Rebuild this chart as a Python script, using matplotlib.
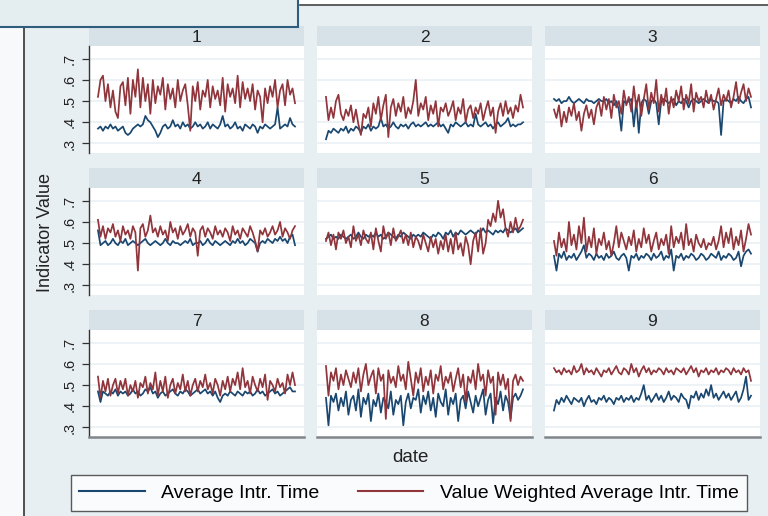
import numpy as np
import matplotlib
matplotlib.use('Agg')
import matplotlib.pyplot as plt
from matplotlib.patches import Rectangle
from matplotlib.lines import Line2D

plt.rcParams['font.family'] = ['Liberation Sans', 'DejaVu Sans']

# average intraday time and value weighted average, one pair per panel
avg_time_1 = [0.37, 0.38, 0.36, 0.38, 0.37, 0.39, 0.37, 0.38, 0.36, 0.37,
              0.38, 0.35, 0.34, 0.35, 0.37, 0.38, 0.39, 0.38, 0.39, 0.43,
              0.41, 0.40, 0.38, 0.36, 0.33, 0.35, 0.38, 0.39, 0.37, 0.38,
              0.41, 0.38, 0.39, 0.37, 0.40, 0.38, 0.39, 0.37, 0.38, 0.40,
              0.38, 0.39, 0.37, 0.38, 0.40, 0.37, 0.39, 0.38, 0.37, 0.39,
              0.43, 0.38, 0.39, 0.37, 0.38, 0.40, 0.37, 0.38, 0.36, 0.39,
              0.38, 0.37, 0.39, 0.38, 0.35, 0.38, 0.37, 0.39, 0.38, 0.37,
              0.38, 0.39, 0.47, 0.37, 0.38, 0.39, 0.38, 0.42, 0.39, 0.38]
vw_time_1 = [0.52, 0.60, 0.62, 0.50, 0.58, 0.47, 0.55, 0.45, 0.42, 0.57,
             0.59, 0.48, 0.61, 0.44, 0.60, 0.52, 0.65, 0.47, 0.61, 0.50,
             0.58, 0.44, 0.60, 0.49, 0.57, 0.53, 0.61, 0.46, 0.58, 0.51,
             0.56, 0.47, 0.60, 0.50, 0.55, 0.58, 0.48, 0.36, 0.57, 0.50,
             0.59, 0.46, 0.55, 0.52, 0.60, 0.47, 0.57, 0.51, 0.55, 0.48,
             0.61, 0.45, 0.58, 0.52, 0.56, 0.49, 0.62, 0.47, 0.59, 0.51,
             0.56, 0.50, 0.58, 0.46, 0.55, 0.52, 0.40, 0.56, 0.49, 0.57,
             0.52, 0.60, 0.47, 0.55, 0.58, 0.48, 0.60, 0.53, 0.56, 0.49]

avg_time_2 = [0.32, 0.36, 0.35, 0.37, 0.36, 0.35, 0.37, 0.36, 0.38, 0.35,
              0.37, 0.36, 0.38, 0.37, 0.35, 0.38, 0.37, 0.39, 0.36, 0.38,
              0.37, 0.38, 0.42, 0.38, 0.39, 0.37, 0.38, 0.40, 0.38, 0.37,
              0.39, 0.38, 0.39, 0.37, 0.39, 0.40, 0.38, 0.39, 0.38, 0.39,
              0.40, 0.38, 0.39, 0.38, 0.39, 0.40, 0.38, 0.39, 0.37, 0.35,
              0.39, 0.38, 0.40, 0.39, 0.38, 0.39, 0.40, 0.38, 0.39, 0.38,
              0.44, 0.39, 0.38, 0.39, 0.40, 0.38, 0.39, 0.37, 0.39, 0.40,
              0.38, 0.39, 0.40, 0.42, 0.38, 0.39, 0.38, 0.39, 0.39, 0.40]
vw_time_2 = [0.52, 0.41, 0.47, 0.42, 0.50, 0.53, 0.44, 0.41, 0.46, 0.43,
             0.48, 0.40, 0.46, 0.39, 0.34, 0.44, 0.42, 0.47, 0.38, 0.49,
             0.44, 0.52, 0.41, 0.48, 0.53, 0.33, 0.47, 0.51, 0.43, 0.49,
             0.45, 0.52, 0.42, 0.47, 0.44, 0.50, 0.60, 0.43, 0.49, 0.46,
             0.52, 0.41, 0.48, 0.44, 0.50, 0.38, 0.47, 0.45, 0.49, 0.43,
             0.46, 0.50, 0.41, 0.47, 0.44, 0.51, 0.40, 0.46, 0.48, 0.42,
             0.47, 0.44, 0.49, 0.41, 0.46, 0.50, 0.43, 0.47, 0.35, 0.45,
             0.49, 0.43, 0.50, 0.44, 0.47, 0.42, 0.48, 0.45, 0.53, 0.47]

avg_time_3 = [0.51, 0.50, 0.51, 0.49, 0.50, 0.50, 0.52, 0.50, 0.49, 0.50,
              0.51, 0.50, 0.49, 0.51, 0.50, 0.50, 0.49, 0.50, 0.51, 0.50,
              0.50, 0.51, 0.49, 0.50, 0.48, 0.50, 0.46, 0.36, 0.50, 0.49,
              0.50, 0.51, 0.38, 0.50, 0.35, 0.49, 0.51, 0.50, 0.44, 0.50,
              0.51, 0.49, 0.39, 0.50, 0.51, 0.50, 0.49, 0.50, 0.51, 0.48,
              0.50, 0.49, 0.51, 0.50, 0.47, 0.50, 0.51, 0.50, 0.49, 0.50,
              0.51, 0.50, 0.49, 0.51, 0.50, 0.50, 0.49, 0.34, 0.50, 0.51,
              0.50, 0.49, 0.51, 0.50, 0.52, 0.50, 0.49, 0.51, 0.52, 0.47]
vw_time_3 = [0.46, 0.42, 0.48, 0.38, 0.45, 0.40, 0.47, 0.43, 0.49, 0.41,
             0.45, 0.36, 0.44, 0.48, 0.42, 0.46, 0.39, 0.47, 0.50, 0.43,
             0.52, 0.46, 0.51, 0.42, 0.53, 0.47, 0.50, 0.44, 0.55, 0.48,
             0.52, 0.45, 0.57, 0.47, 0.53, 0.43, 0.51, 0.58, 0.46, 0.54,
             0.49, 0.60, 0.45, 0.53, 0.48, 0.56, 0.44, 0.52, 0.47, 0.55,
             0.50, 0.57, 0.46, 0.53, 0.49, 0.58, 0.45, 0.54, 0.50, 0.52,
             0.47, 0.55, 0.49, 0.53, 0.46, 0.51, 0.56, 0.48, 0.53, 0.50,
             0.55, 0.47, 0.52, 0.59, 0.49, 0.54, 0.58, 0.50, 0.56, 0.52]

avg_time_4 = [0.56, 0.49, 0.50, 0.51, 0.49, 0.50, 0.52, 0.50, 0.49, 0.51,
              0.50, 0.52, 0.49, 0.50, 0.51, 0.50, 0.49, 0.50, 0.51, 0.52,
              0.50, 0.49, 0.50, 0.51, 0.50, 0.49, 0.50, 0.52, 0.50, 0.49,
              0.51, 0.50, 0.50, 0.49, 0.50, 0.51, 0.50, 0.52, 0.49, 0.50,
              0.50, 0.51, 0.49, 0.50, 0.52, 0.50, 0.49, 0.51, 0.50, 0.49,
              0.50, 0.51, 0.50, 0.49, 0.51, 0.50, 0.52, 0.50, 0.51, 0.49,
              0.50, 0.52, 0.51, 0.50, 0.46, 0.50, 0.51, 0.50, 0.52, 0.51,
              0.50, 0.52, 0.51, 0.53, 0.51, 0.52, 0.50, 0.53, 0.54, 0.49]
vw_time_4 = [0.61, 0.53, 0.58, 0.52, 0.57, 0.55, 0.59, 0.53, 0.56, 0.51,
             0.58, 0.54, 0.56, 0.52, 0.58, 0.55, 0.37, 0.57, 0.59, 0.53,
             0.56, 0.63, 0.55, 0.57, 0.53, 0.58, 0.54, 0.56, 0.51, 0.60,
             0.55, 0.57, 0.52, 0.58, 0.54, 0.56, 0.59, 0.53, 0.57, 0.55,
             0.44, 0.56, 0.58, 0.53, 0.57, 0.55, 0.52, 0.58, 0.54, 0.56,
             0.53, 0.57, 0.55, 0.51, 0.58, 0.54, 0.56, 0.52, 0.57, 0.55,
             0.53, 0.58, 0.55, 0.51, 0.46, 0.56, 0.54, 0.57, 0.53, 0.55,
             0.58, 0.54, 0.56, 0.60, 0.53, 0.57, 0.55, 0.52, 0.56, 0.58]

avg_time_5 = [0.52, 0.53, 0.54, 0.52, 0.53, 0.52, 0.54, 0.53, 0.52, 0.53,
              0.54, 0.52, 0.53, 0.55, 0.53, 0.52, 0.54, 0.53, 0.54, 0.53,
              0.55, 0.53, 0.54, 0.52, 0.53, 0.55, 0.54, 0.53, 0.52, 0.54,
              0.53, 0.55, 0.54, 0.53, 0.52, 0.54, 0.53, 0.54, 0.53, 0.55,
              0.54, 0.53, 0.52, 0.54, 0.53, 0.55, 0.54, 0.52, 0.55, 0.54,
              0.56, 0.53, 0.55, 0.54, 0.56, 0.55, 0.54, 0.55, 0.56, 0.55,
              0.54, 0.56, 0.55, 0.57, 0.55, 0.56, 0.55, 0.54, 0.56, 0.55,
              0.56, 0.55, 0.57, 0.56, 0.55, 0.56, 0.57, 0.55, 0.56, 0.57]
vw_time_5 = [0.51, 0.55, 0.49, 0.54, 0.47, 0.55, 0.52, 0.56, 0.50, 0.53,
             0.48, 0.58, 0.51, 0.54, 0.49, 0.56, 0.52, 0.50, 0.55, 0.47,
             0.57, 0.51, 0.46, 0.58, 0.52, 0.55, 0.49, 0.57, 0.51, 0.53,
             0.56, 0.50, 0.54, 0.49, 0.55, 0.48, 0.53, 0.51, 0.47, 0.54,
             0.50, 0.46, 0.53, 0.48, 0.52, 0.45, 0.51, 0.47, 0.54, 0.46,
             0.52, 0.45, 0.55, 0.47, 0.50, 0.44, 0.53, 0.49, 0.40, 0.51,
             0.55, 0.46, 0.57, 0.45, 0.50, 0.61, 0.58, 0.64, 0.60, 0.70,
             0.62, 0.66, 0.57, 0.53, 0.60, 0.55, 0.62, 0.56, 0.58, 0.61]

avg_time_6 = [0.44, 0.37, 0.45, 0.43, 0.46, 0.42, 0.44, 0.43, 0.45, 0.42,
              0.44, 0.46, 0.49, 0.43, 0.45, 0.44, 0.42, 0.45, 0.43, 0.44,
              0.42, 0.45, 0.43, 0.44, 0.46, 0.43, 0.42, 0.44, 0.45, 0.43,
              0.37, 0.44, 0.43, 0.45, 0.42, 0.44, 0.43, 0.45, 0.44, 0.42,
              0.45, 0.43, 0.44, 0.46, 0.42, 0.44, 0.43, 0.47, 0.37, 0.44,
              0.43, 0.45, 0.42, 0.44, 0.43, 0.45, 0.44, 0.42, 0.43, 0.45,
              0.44, 0.42, 0.43, 0.45, 0.44, 0.43, 0.46, 0.42, 0.44, 0.43,
              0.45, 0.44, 0.42, 0.43, 0.46, 0.39, 0.44, 0.46, 0.47, 0.45]
vw_time_6 = [0.51, 0.44, 0.55, 0.48, 0.52, 0.46, 0.60, 0.49, 0.54, 0.47,
             0.58, 0.50, 0.62, 0.46, 0.53, 0.48, 0.57, 0.45, 0.52, 0.49,
             0.55, 0.47, 0.51, 0.44, 0.50, 0.58, 0.48, 0.55, 0.51, 0.47,
             0.53, 0.49, 0.56, 0.46, 0.52, 0.48, 0.57, 0.50, 0.54, 0.46,
             0.51, 0.55, 0.47, 0.52, 0.49, 0.54, 0.45, 0.58, 0.48, 0.53,
             0.50, 0.55, 0.47, 0.59, 0.49, 0.52, 0.46, 0.54, 0.50, 0.48,
             0.52, 0.47, 0.50, 0.49, 0.53, 0.47, 0.51, 0.58, 0.48, 0.55,
             0.50, 0.57, 0.47, 0.53, 0.49, 0.56, 0.46, 0.52, 0.59, 0.54]

avg_time_7 = [0.47, 0.42, 0.47, 0.46, 0.45, 0.47, 0.46, 0.48, 0.45, 0.47,
              0.46, 0.47, 0.45, 0.46, 0.48, 0.46, 0.47, 0.45, 0.46, 0.48,
              0.47, 0.49, 0.46, 0.47, 0.44, 0.46, 0.47, 0.45, 0.46, 0.47,
              0.48, 0.46, 0.45, 0.47, 0.46, 0.48, 0.47, 0.45, 0.46, 0.47,
              0.48, 0.46, 0.47, 0.48, 0.46, 0.47, 0.45, 0.47, 0.44, 0.42,
              0.45, 0.46, 0.45, 0.47, 0.46, 0.45, 0.47, 0.46, 0.45, 0.47,
              0.46, 0.47, 0.45, 0.46, 0.48, 0.46, 0.47, 0.45, 0.46, 0.47,
              0.48, 0.46, 0.47, 0.45, 0.46, 0.47, 0.48, 0.49, 0.47, 0.47]
vw_time_7 = [0.54, 0.44, 0.52, 0.47, 0.53, 0.45, 0.50, 0.53, 0.46, 0.52,
             0.48, 0.53, 0.45, 0.50, 0.47, 0.52, 0.44, 0.51, 0.49, 0.54,
             0.46, 0.51, 0.48, 0.56, 0.45, 0.52, 0.47, 0.54, 0.44, 0.50,
             0.53, 0.46, 0.51, 0.48, 0.55, 0.47, 0.52, 0.45, 0.50, 0.53,
             0.47, 0.52, 0.49, 0.55, 0.48, 0.51, 0.46, 0.53, 0.50, 0.45,
             0.52, 0.48, 0.54, 0.47, 0.53, 0.50, 0.56, 0.48, 0.58, 0.49,
             0.52, 0.46, 0.54, 0.50, 0.47, 0.53, 0.49, 0.55, 0.43, 0.52,
             0.50, 0.47, 0.53, 0.49, 0.51, 0.46, 0.55, 0.50, 0.56, 0.50]

avg_time_8 = [0.44, 0.31, 0.45, 0.42, 0.46, 0.38, 0.44, 0.40, 0.47, 0.36,
              0.43, 0.45, 0.38, 0.48, 0.35, 0.44, 0.41, 0.46, 0.33, 0.43,
              0.40, 0.46, 0.37, 0.44, 0.42, 0.39, 0.47, 0.36, 0.43, 0.41,
              0.45, 0.31, 0.42, 0.46, 0.39, 0.44, 0.43, 0.48, 0.37, 0.45,
              0.41, 0.47, 0.38, 0.44, 0.35, 0.46, 0.42, 0.40, 0.48, 0.36,
              0.44, 0.41, 0.46, 0.33, 0.43, 0.45, 0.39, 0.47, 0.42, 0.37,
              0.45, 0.40, 0.44, 0.48, 0.36, 0.43, 0.46, 0.32, 0.44, 0.41,
              0.47, 0.38, 0.45, 0.42, 0.34, 0.44, 0.46, 0.43, 0.45, 0.48]
vw_time_8 = [0.59, 0.45, 0.56, 0.52, 0.58, 0.48, 0.55, 0.50, 0.57, 0.53,
             0.49, 0.56, 0.51, 0.58, 0.47, 0.55, 0.60, 0.50, 0.54, 0.57,
             0.46, 0.58, 0.52, 0.55, 0.34, 0.57, 0.51, 0.54, 0.49, 0.59,
             0.52, 0.55, 0.48, 0.61, 0.53, 0.45, 0.56, 0.51, 0.58, 0.47,
             0.54, 0.50, 0.57, 0.46, 0.55, 0.52, 0.59, 0.48, 0.54, 0.51,
             0.56, 0.47, 0.53, 0.58, 0.49, 0.55, 0.42, 0.54, 0.51, 0.57,
             0.48, 0.60, 0.52, 0.55, 0.45, 0.57, 0.51, 0.54, 0.36, 0.56,
             0.50, 0.55, 0.48, 0.53, 0.33, 0.52, 0.55, 0.50, 0.54, 0.52]

avg_time_9 = [0.38, 0.43, 0.41, 0.44, 0.42, 0.45, 0.43, 0.41, 0.44, 0.43,
              0.42, 0.44, 0.40, 0.43, 0.45, 0.42, 0.43, 0.41, 0.44, 0.43,
              0.45, 0.42, 0.44, 0.43, 0.41, 0.44, 0.43, 0.45, 0.42, 0.44,
              0.43, 0.45, 0.42, 0.44, 0.43, 0.46, 0.50, 0.43, 0.45, 0.42,
              0.44, 0.46, 0.43, 0.45, 0.42, 0.44, 0.47, 0.43, 0.45, 0.44,
              0.42, 0.46, 0.44, 0.43, 0.39, 0.45, 0.44, 0.47, 0.43, 0.46,
              0.44, 0.48, 0.45, 0.50, 0.44, 0.46, 0.43, 0.45, 0.47, 0.44,
              0.46, 0.43, 0.45, 0.47, 0.42, 0.44, 0.48, 0.54, 0.43, 0.45]
vw_time_9 = [0.58, 0.56, 0.57, 0.55, 0.58, 0.56, 0.57, 0.55, 0.59, 0.56,
             0.57, 0.60, 0.55, 0.58, 0.56, 0.57, 0.55, 0.58, 0.56, 0.54,
             0.57, 0.56, 0.58, 0.55, 0.57, 0.59, 0.56, 0.55, 0.58, 0.57,
             0.55, 0.60, 0.56, 0.58, 0.54, 0.57, 0.59, 0.56, 0.58, 0.55,
             0.57, 0.56, 0.58, 0.57, 0.55, 0.58, 0.56, 0.57, 0.55, 0.58,
             0.57, 0.56, 0.58, 0.55, 0.57, 0.59, 0.56, 0.58, 0.54, 0.57,
             0.56, 0.58, 0.55, 0.57, 0.56, 0.58, 0.55, 0.57, 0.56, 0.58,
             0.57, 0.55, 0.58, 0.56, 0.57, 0.55, 0.58, 0.56, 0.57, 0.52]

panel_names = ['1', '2', '3', '4', '5', '6', '7', '8', '9']
y_ticks = [0.3, 0.4, 0.5, 0.6, 0.7]
y_ticklabels = ['.3', '.4', '.5', '.6', '.7']
series_labels = ['Average Intr. Time', 'Value Weighted Average Intr. Time']

avg_series = [avg_time_1, avg_time_2, avg_time_3, avg_time_4, avg_time_5,
              avg_time_6, avg_time_7, avg_time_8, avg_time_9]
vw_series = [vw_time_1, vw_time_2, vw_time_3, vw_time_4, vw_time_5,
             vw_time_6, vw_time_7, vw_time_8, vw_time_9]

# colours (stata s2color-ish)
c_avg = '#1a476f'
c_vw = '#90353b'
c_bg = '#e8eff2'
c_strip = '#d6e1e8'
c_grid = '#e9f0f3'

W, H = 768, 516


def box(x0, y0, w, h):
    """pixel box (top-left origin) -> figure fraction rect"""
    return [x0 / W, 1 - (y0 + h) / H, w / W, h / H]


fig = plt.figure(figsize=(W / 100, H / 100), dpi=100)
fig.patch.set_facecolor(c_bg)

col_x = [89, 317, 545]
row_y = [26, 168, 310]
panel_w = 215
strip_h = 20
plot_h = 107

for k, name in enumerate(panel_names):
    r, c = divmod(k, 3)
    x0, y0 = col_x[c], row_y[r]

    sax = fig.add_axes(box(x0, y0, panel_w, strip_h))
    sax.set_facecolor(c_strip)
    sax.set_xticks([])
    sax.set_yticks([])
    for s in sax.spines.values():
        s.set_visible(False)
    sax.text(0.5, 0.45, name, ha='center', va='center', fontsize=12.5,
             color='#222222', transform=sax.transAxes)

    ax = fig.add_axes(box(x0, y0 + strip_h, panel_w, plot_h))
    ax.set_facecolor('white')
    for v in y_ticks:
        ax.axhline(v, color=c_grid, lw=1.2, zorder=0)
    avg = avg_series[k]
    vw = vw_series[k]
    ax.plot(np.arange(len(avg)), avg, color=c_avg, lw=1.25, zorder=2)
    ax.plot(np.arange(len(vw)), vw, color=c_vw, lw=1.25, zorder=3)
    ax.set_xlim(-3.6, 82.6)
    ax.set_ylim(0.255, 0.76)
    ax.set_xticks([])
    ax.set_yticks(y_ticks)
    for s in ['top', 'right']:
        ax.spines[s].set_visible(False)
    if c == 0:
        ax.set_yticklabels(y_ticklabels, rotation=90, va='center')
        ax.tick_params(axis='y', length=5, width=0.9, color='#333333',
                       labelsize=10.5, labelcolor='#222222', pad=4)
        ax.spines['left'].set_color('#333333')
        ax.spines['left'].set_linewidth(1.0)
    else:
        ax.set_yticklabels([])
        ax.tick_params(axis='y', length=0)
        ax.spines['left'].set_visible(False)
    if r == 2:
        ax.spines['bottom'].set_color('#808589')
        ax.spines['bottom'].set_linewidth(1.8)
    else:
        ax.spines['bottom'].set_visible(False)

fig.text(45 / W, 1 - 232 / H, 'Indicator Value', rotation=90, ha='center',
         va='center', fontsize=13, color='#222222')
fig.text(410 / W, 1 - 458 / H, 'date', ha='center', va='center',
         fontsize=13.5, color='#222222')

handles = [Line2D([], [], color=c_avg, lw=1.5), Line2D([], [], color=c_vw, lw=1.5)]
leg = fig.legend(handles, series_labels, loc='center',
                 bbox_to_anchor=(409 / W, 1 - 493 / H), ncol=2, fontsize=14,
                 frameon=True, fancybox=False, edgecolor='#333333',
                 handlelength=3.35, handletextpad=0.87, columnspacing=1.95,
                 borderpad=0.45, borderaxespad=0)
leg.get_frame().set_linewidth(1.0)
leg.get_frame().set_facecolor('white')

# screenshot framing: white margin on the left, slide box and top rule
fig.add_artist(Rectangle((0, 0), 24 / W, 1, transform=fig.transFigure,
                         facecolor='#f7f9fa', edgecolor='none', zorder=5))
fig.add_artist(Line2D([24 / W, 24 / W], [0, 1 - 28 / H], transform=fig.transFigure,
                      color='#333333', lw=1.2, zorder=6))
fig.add_artist(Rectangle((298 / W, 1 - 5 / H), 1, 5 / H, transform=fig.transFigure,
                         facecolor='white', edgecolor='none', zorder=5))
fig.add_artist(Line2D([300 / W, 1], [1 - 5 / H, 1 - 5 / H], transform=fig.transFigure,
                      color='#444444', lw=1.2, zorder=6))
fig.add_artist(Rectangle((-0.01, 1 - 27 / H), 298 / W + 0.01, 27 / H + 0.01,
                         transform=fig.transFigure, facecolor='#e4edf0',
                         edgecolor='#2f5d7d', lw=1.5, zorder=7))

fig.savefig('out.png', dpi=100, facecolor=fig.get_facecolor())
